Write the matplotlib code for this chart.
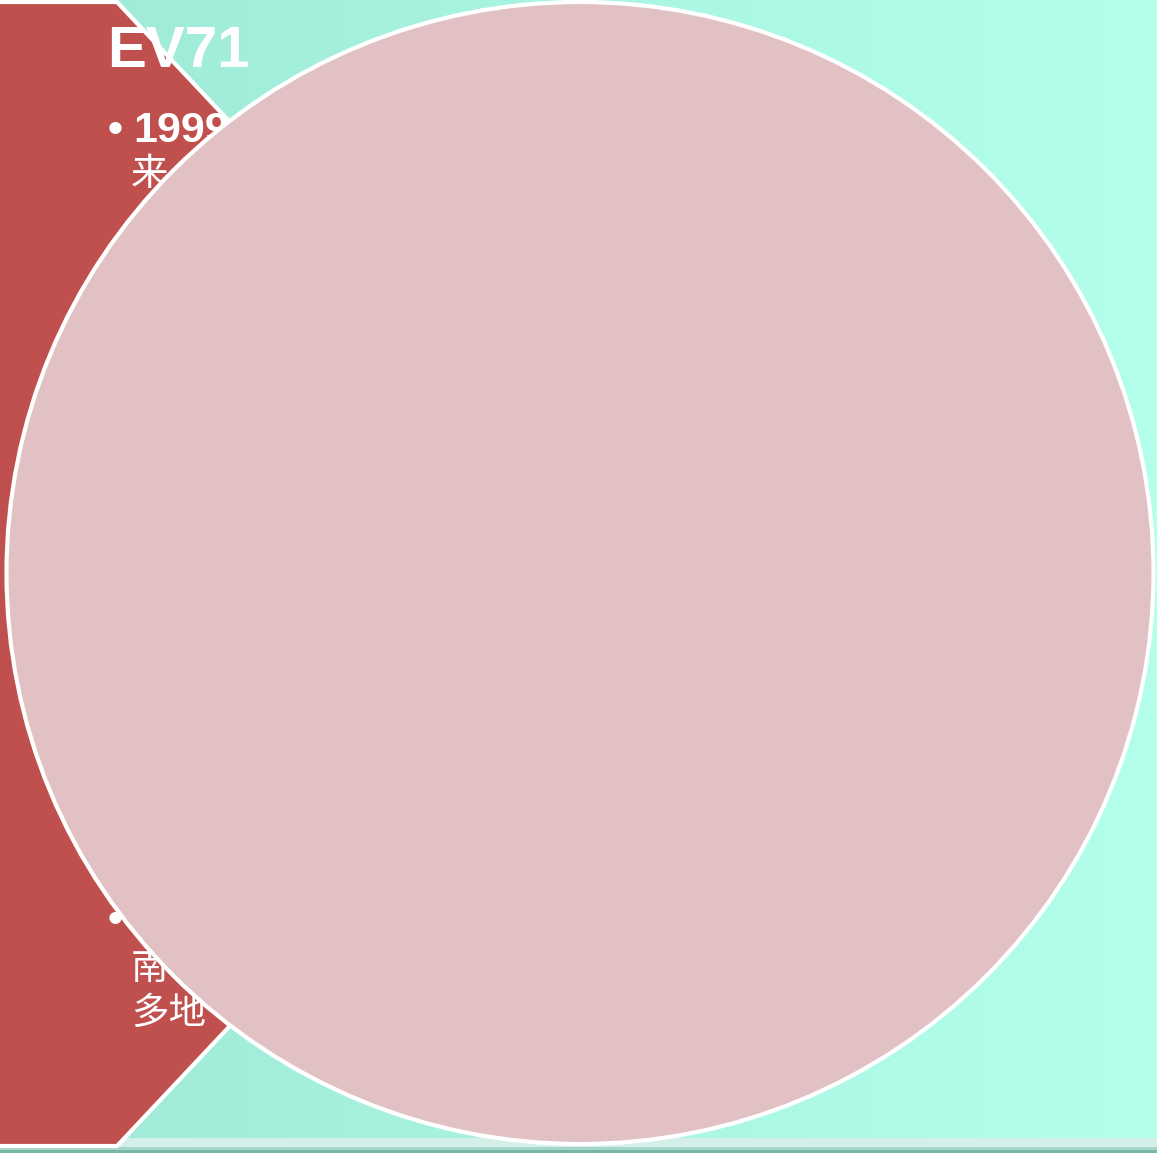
import numpy as np
import matplotlib
matplotlib.use("Agg")
import matplotlib.pyplot as plt
import matplotlib.patches as patches
from matplotlib.colors import LinearSegmentedColormap

# -----------------------------
# Shapes (pixel coordinates, y down)
# -----------------------------
W, H = 1157, 1153

hex_x = [-5, 117, 655, 117, -5]
hex_y = [2, 2, 574, 1146, 1146]

circle_center = (580, 573)
circle_w = 1147
circle_h = 1142

# -----------------------------
# Texts
# -----------------------------
title = "EV71"
bullet_lines = ["1999", ""]
cjk_lines = ["来", "南", "多地"]

fig = plt.figure(figsize=(W / 100, H / 100), dpi=100)
ax = fig.add_axes([0, 0, 1, 1])
ax.set_xlim(0, W)
ax.set_ylim(H, 0)
ax.axis("off")

# background gradient, left to right
bg = LinearSegmentedColormap.from_list("bg", ["#9fe9d5", "#a8f5e2", "#b3ffec"])
grad = np.tile(np.linspace(0, 1, 256), (2, 1))
ax.imshow(grad, cmap=bg, extent=[0, W, H, 0], aspect="auto", zorder=0)

# bottom strip
ax.add_patch(patches.Rectangle((0, 1138), W, 9, facecolor="#d4eee8", edgecolor="none", zorder=1))
ax.add_patch(patches.Rectangle((0, 1147), W, 3, facecolor="#a6d6ca", edgecolor="none", zorder=1))
ax.add_patch(patches.Rectangle((0, 1150), W, 4, facecolor="#78b6a6", edgecolor="none", zorder=1))

# red hexagon panel
panel = patches.Polygon(list(zip(hex_x, hex_y)), closed=True, facecolor="#c0504d",
                        edgecolor="white", linewidth=3, zorder=2)
ax.add_patch(panel)

# texts on the panel
ax.text(107, 67, title, fontsize=42, fontweight="bold", color="white",
        family="Liberation Sans", ha="left", va="baseline", zorder=3)

ax.text(108, 142, "•", fontsize=31, fontweight="bold", color="white",
        family="Liberation Sans", ha="left", va="baseline", zorder=3)
ax.text(133, 142, bullet_lines[0], fontsize=31, fontweight="bold", color="white",
        family="Liberation Sans", ha="left", va="baseline", zorder=3)
ax.text(108, 932, "•", fontsize=31, fontweight="bold", color="white",
        family="Liberation Sans", ha="left", va="baseline", zorder=3)

ax.text(131, 174, cjk_lines[0], fontsize=27, color="white", fontweight="light",
        family=["Noto Sans CJK SC", "DejaVu Sans"], ha="left", va="center", zorder=3)
ax.text(131, 968, cjk_lines[1], fontsize=27, color="white", fontweight="light",
        family=["Noto Sans CJK SC", "DejaVu Sans"], ha="left", va="center", zorder=3)
ax.text(131, 1013, cjk_lines[2], fontsize=27, color="white", fontweight="light",
        family=["Noto Sans CJK SC", "DejaVu Sans"], ha="left", va="center", zorder=3)

# big circle
circ = patches.Ellipse(circle_center, circle_w, circle_h, facecolor="#e1c1c4",
                       edgecolor="white", linewidth=3, zorder=4)
ax.add_patch(circ)

fig.savefig("out.png", dpi=100)
